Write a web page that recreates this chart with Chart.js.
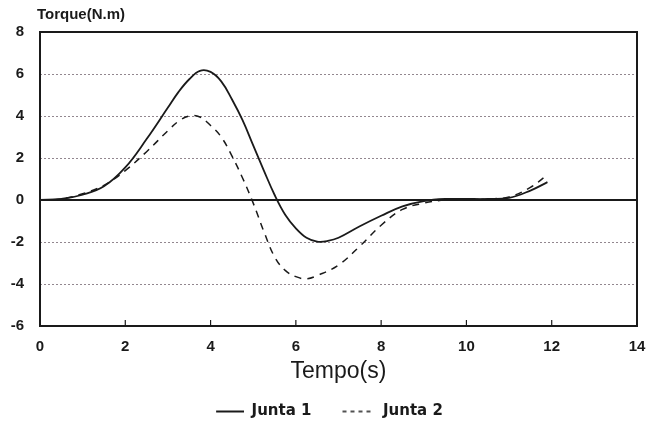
<!DOCTYPE html>
<html>
<head>
<meta charset="utf-8">
<script src="https://cdn.jsdelivr.net/npm/chart.js@4/dist/chart.umd.min.js"></script>
<style>
  html, body { margin: 0; padding: 0; background: #fff; }
  #wrap { width: 650px; height: 429px; }
</style>
</head>
<body>
<div id="wrap"><canvas id="c"></canvas></div>
<script>
// time (s) and torque (N.m)
var tempo1  = [0, 0.5, 1, 1.5, 2, 2.5, 3, 3.25, 3.5, 3.75, 4, 4.25, 4.5, 4.75, 5, 5.25, 5.5, 5.75, 6, 6.25, 6.5, 6.75, 7, 7.5, 8, 8.5, 9, 9.5, 10, 10.5, 11, 11.5, 11.9];
var junta1  = [0, 0.05, 0.25, 0.65, 1.55, 2.9, 4.4, 5.15, 5.75, 6.15, 6.1, 5.65, 4.8, 3.8, 2.6, 1.4, 0.25, -0.7, -1.35, -1.8, -1.98, -1.95, -1.8, -1.25, -0.75, -0.3, -0.05, 0.05, 0.05, 0.05, 0.1, 0.45, 0.85];
var tempo2  = [0, 0.5, 1, 1.5, 2, 2.5, 3, 3.25, 3.5, 3.75, 4, 4.25, 4.5, 4.75, 5, 5.25, 5.5, 5.75, 6, 6.25, 6.5, 7, 7.5, 8, 8.5, 9, 9.5, 10, 10.5, 11, 11.5, 11.9];
var junta2  = [0, 0.05, 0.3, 0.7, 1.4, 2.3, 3.3, 3.75, 4.0, 3.95, 3.55, 3.0, 2.1, 1.05, -0.15, -1.5, -2.7, -3.35, -3.65, -3.75, -3.6, -3.1, -2.2, -1.2, -0.45, -0.15, 0, 0.02, 0.05, 0.15, 0.6, 1.2];
var xTicks = [0, 2, 4, 6, 8, 10, 12, 14];
var yTicks = [-6, -4, -2, 0, 2, 4, 6, 8];

function pts(xs, ys) {
  return xs.map(function (x, i) { return { x: x, y: ys[i] }; });
}

// line swatches for the legend (the built-in 'line' style ignores dashes)
var SW = 50;
function swatch(dash, w, from, to) {
  var c = document.createElement('canvas');
  c.width = SW; c.height = 4;
  var g = c.getContext('2d');
  g.strokeStyle = '#1a1a1a';
  g.lineWidth = w;
  g.setLineDash(dash);
  g.beginPath(); g.moveTo(from, 2); g.lineTo(to, 2); g.stroke();
  return c;
}

var FONT = "'Liberation Sans', Arial, sans-serif";
Chart.defaults.font.family = FONT;
Chart.defaults.color = '#1a1a1a';

// frame, inner tick marks and the unit label at the top of the y axis
var framePlugin = {
  id: 'frame',
  afterDraw: function (chart) {
    var ctx = chart.ctx, a = chart.chartArea, xs = chart.scales.x;
    ctx.save();
    ctx.strokeStyle = '#1a1a1a';
    ctx.lineWidth = 2;
    ctx.strokeRect(a.left, a.top, a.right - a.left, a.bottom - a.top);
    ctx.lineWidth = 1.2;
    xTicks.forEach(function (v) {
      var px = xs.getPixelForValue(v);
      ctx.beginPath();
      ctx.moveTo(px, a.bottom);
      ctx.lineTo(px, a.bottom - 6);
      ctx.stroke();
    });
    ctx.fillStyle = '#1a1a1a';
    ctx.font = 'bold 15px ' + FONT;
    ctx.textBaseline = 'middle';
    ctx.fillText('Torque(N.m)', a.left - 3, 15);
    ctx.restore();
  }
};

new Chart(document.getElementById('c'), {
  type: 'line',
  data: {
    datasets: [
      {
        label: 'Junta 1',
        data: pts(tempo1, junta1),
        borderColor: '#1a1a1a',
        borderWidth: 1.8,
        pointRadius: 0,
        pointStyle: swatch([], 2, 22, 50),
        tension: 0.4
      },
      {
        label: 'Junta 2',
        data: pts(tempo2, junta2),
        borderColor: '#1a1a1a',
        borderWidth: 1.5,
        borderDash: [7, 6],
        pointRadius: 0,
        pointStyle: swatch([4, 4], 1.5, 17, 46),
        tension: 0.4
      }
    ]
  },
  options: {
    responsive: true,
    maintainAspectRatio: false,
    animation: false,
    layout: { padding: { top: 32, right: 13, left: 0, bottom: 0 } },
    plugins: {
      tooltip: { enabled: false },
      legend: {
        position: 'bottom',
        labels: {
          usePointStyle: true,
          pointStyleWidth: SW,
          boxHeight: 8,
          padding: 14,
          color: '#1a1a1a',
          font: { family: "'DejaVu Sans', sans-serif", size: 15, weight: 'bold' }
        }
      }
    },
    scales: {
      x: {
        type: 'linear',
        min: 0,
        max: 14,
        afterBuildTicks: function (s) { s.ticks = xTicks.map(function (v) { return { value: v }; }); },
        afterFit: function (s) { s.height = 64; s.paddingLeft = 0; s.paddingRight = 0; },
        grid: { display: false, drawTicks: false },
        border: { display: false },
        ticks: { padding: 12, font: { size: 15, weight: 'bold' }, color: '#1a1a1a', maxRotation: 0 },
        title: { display: true, text: 'Tempo(s)', font: { size: 23 }, color: '#1a1a1a', padding: { top: 0, bottom: 5 } }
      },
      y: {
        min: -6,
        max: 8,
        afterBuildTicks: function (s) { s.ticks = yTicks.map(function (v) { return { value: v }; }); },
        afterFit: function (s) { s.width = 40; },
        grid: {
          drawTicks: false,
          color: function (c) { return c.tick && c.tick.value === 0 ? '#1a1a1a' : 'rgba(110,95,105,0.75)'; },
          lineWidth: function (c) { return c.tick && c.tick.value === 0 ? 2 : 1; }
        },
        border: {
          display: false,
          dash: function (c) { return c.tick && c.tick.value !== 0 ? [2, 2] : []; }
        },
        ticks: { padding: 16, font: { size: 15, weight: 'bold' }, color: '#1a1a1a' }
      }
    }
  },
  plugins: [framePlugin]
});
</script>
</body>
</html>
